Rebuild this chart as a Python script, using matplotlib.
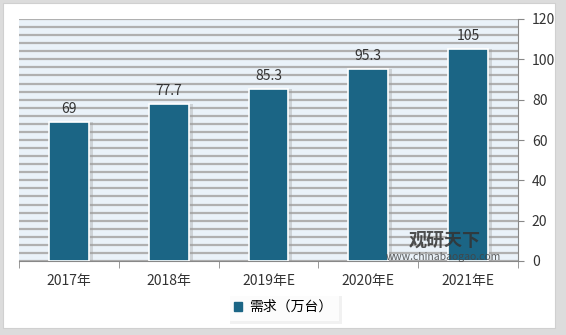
import matplotlib.pyplot as plt
import matplotlib.patheffects as pe
from matplotlib.patches import Rectangle
import numpy as np

plt.rcParams['font.family'] = ['Noto Sans CJK SC', 'DejaVu Sans']

years = ["2017年", "2018年", "2019年E", "2020年E", "2021年E"]
demand = [69, 77.7, 85.3, 95.3, 105]
labels = ["69", "77.7", "85.3", "95.3", "105"]
series_name = "需求（万台）"

W, H = 566, 335
fig = plt.figure(figsize=(W / 100, H / 100), dpi=100)
fig.patch.set_facecolor('#dcdcdc')

# white panel with soft border
fig.patches.append(Rectangle((4 / W, 6 / H), 552 / W, 325 / H, transform=fig.transFigure,
                             facecolor='#c8c8c8', edgecolor='none', zorder=-2))
fig.patches.append(Rectangle((3 / W, 7 / H), 552 / W, 325 / H, transform=fig.transFigure,
                             facecolor='white', edgecolor='#d0d0d0', lw=0.8, zorder=-1))

ax = fig.add_axes([19 / W, (H - 261) / H, 499 / W, 242 / H])
ax.set_zorder(1)
ax.set_facecolor('#eaf2f9')
x = np.arange(len(years))
ax.bar(x + 0.04, demand, width=0.4, color='#9a9a9a', alpha=0.35, zorder=2)
bars = ax.bar(x, demand, width=0.4, color='#1b6585', edgecolor='white', linewidth=1.2, zorder=3)
for xi, v, t in zip(x, demand, labels):
    ax.text(xi, v + 3, t, ha='center', va='bottom', fontsize=10, color='#333333', zorder=4)

ax.set_xlim(-0.5, len(years) - 0.5)
ax.set_ylim(0, 120)
ax.set_yticks(range(0, 121, 20))
ax.set_yticks(range(0, 121, 4), minor=True)
ax.yaxis.grid(True, which='both', color='#b0b0b0', lw=1.6, zorder=1)
ax.set_axisbelow(True)
ax.yaxis.tick_right()
ax.tick_params(axis='y', which='minor', length=0)
ax.tick_params(axis='y', which='major', length=4, color='#888888', labelsize=10,
               labelcolor='#333333', pad=6)
ax.set_xticks(x)
ax.set_xticklabels(years, fontsize=10, color='#333333')
ax.tick_params(axis='x', length=0, pad=9)
ax.set_xticks(np.arange(-0.5, len(years), 1), minor=True)
ax.tick_params(axis='x', which='minor', length=5, color='#888888')
for s in ['top', 'left']:
    ax.spines[s].set_visible(False)
ax.spines['bottom'].set_color('#888888')
ax.spines['right'].set_color('#888888')

# legend
leg = fig.legend([Rectangle((0, 0), 1, 1, color='#1b6585')], [series_name],
                 loc='center', bbox_to_anchor=(283 / W, (H - 307) / H), frameon=True,
                 fontsize=10, handlelength=0.6, handleheight=0.6, handletextpad=0.5,
                 borderpad=0.5, fancybox=False)
leg.set_zorder(2)
leg.get_frame().set_edgecolor('none')
leg.get_frame().set_facecolor('white')
leg.get_frame().set_path_effects([pe.SimplePatchShadow(offset=(2, -2), alpha=0.08), pe.Normal()])

# watermark
fig.text(445 / W, (H - 240) / H, "观研天下", fontsize=13, fontweight='bold', color='#333333',
         ha='center', va='center', alpha=0.85, zorder=3)
fig.text(443 / W, (H - 257) / H, "www.chinabaogao.com", fontsize=7.5, color='#444444',
         ha='center', va='center', alpha=0.85, zorder=3)

fig.savefig('out.png', dpi=100, facecolor=fig.get_facecolor())
